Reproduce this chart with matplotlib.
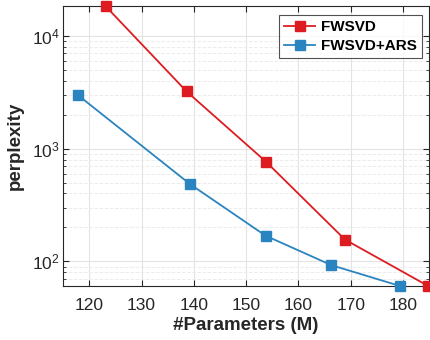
import matplotlib
matplotlib.use("Agg")
import matplotlib.pyplot as plt
from matplotlib.ticker import LogLocator, NullFormatter

plt.rcParams['font.family'] = ['Liberation Sans', 'DejaVu Sans']
plt.rcParams['mathtext.fontset'] = 'custom'
plt.rcParams['mathtext.rm'] = 'Liberation Sans'
plt.rcParams['mathtext.it'] = 'Liberation Sans:italic'
plt.rcParams['mathtext.bf'] = 'Liberation Sans:bold'

fwsvd_params = [123.1, 138.6, 153.8, 168.9, 184.8]
fwsvd_ppl = [18400, 3220, 765, 156, 60.5]
ars_params = [117.8, 139.3, 153.7, 166.3, 179.4]
ars_ppl = [2990, 483, 169, 92.5, 60.5]
labels = ["FWSVD", "FWSVD+ARS"]
xticks = [120, 130, 140, 150, 160, 170, 180]

red = '#dd1c22'
blue = '#2a84c0'
axc = '#262626'

fig = plt.figure(figsize=(4.3, 3.4), dpi=100)
ax = fig.add_axes([0.147, 0.159, 0.851, 0.823])

ax.plot(fwsvd_params, fwsvd_ppl, color=red, lw=1.3, marker='s', ms=6.5,
        label=labels[0], clip_on=False, zorder=3)
ax.plot(ars_params, ars_ppl, color=blue, lw=1.3, marker='s', ms=6.5,
        label=labels[1], clip_on=False, zorder=3)

ax.set_yscale('log')
ax.set_xlim(115, 185)
ax.set_ylim(60.5, 18400)
ax.set_xticks(xticks)
ax.yaxis.set_major_locator(LogLocator(base=10))
ax.yaxis.set_minor_locator(LogLocator(base=10, subs=range(2, 10)))
ax.yaxis.set_minor_formatter(NullFormatter())

ax.grid(True, which='major', color='#e3e3e3', lw=0.8, ls='-')
ax.grid(True, which='minor', axis='y', color='#ececec', lw=0.7, ls='--')
ax.set_axisbelow(True)

ax.tick_params(which='both', direction='in', colors=axc, labelsize=12.5,
               top=True, right=True)
ax.tick_params(which='major', length=4)
ax.tick_params(which='minor', length=2)
ax.tick_params(axis='x', which='major', pad=8.5)
ax.tick_params(axis='y', which='major', pad=2.5)
for s in ax.spines.values():
    s.set_color(axc)
    s.set_linewidth(0.8)

ax.set_xlabel('#Parameters (M)', fontsize=13.5, fontweight='bold', color=axc, labelpad=3)
ax.set_ylabel('perplexity', fontsize=13.5, fontweight='bold', color=axc, labelpad=6)

leg = ax.legend(loc='upper right', prop={'weight': 'bold', 'size': 11},
                frameon=True, fancybox=False, edgecolor='#262626',
                handlelength=2.0, borderpad=0.35, labelspacing=0.3,
                handletextpad=0.4, borderaxespad=0,
                bbox_to_anchor=(0.981, 0.968))
leg.get_frame().set_linewidth(0.8)

fig.savefig('out.png', dpi=100)
